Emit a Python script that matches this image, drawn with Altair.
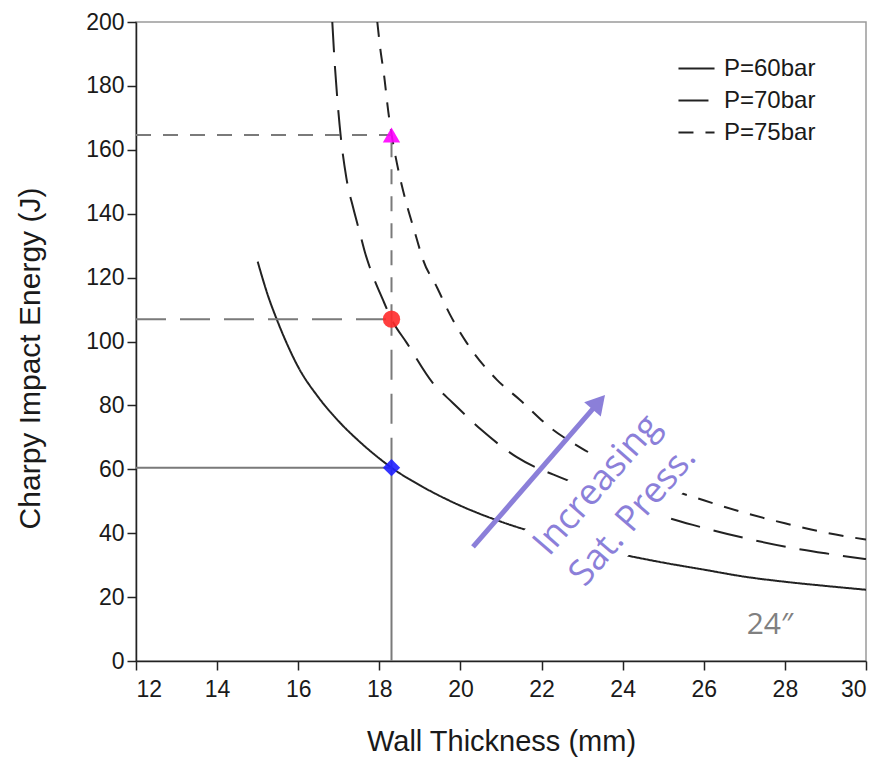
import altair as alt
import pandas as pd

# ---- data ----
series_names = ["P=60bar", "P=70bar", "P=75bar"]

x60 = [15.0, 15.25, 15.5, 15.75, 16.0, 16.5, 17.0, 17.5, 18.0, 18.3, 19.0, 20.0, 21.0, 22.0, 23.0, 24.0, 25.0, 26.0, 27.0, 28.0, 29.0, 30.0]
y60 = [125, 114.5, 106, 98.5, 92, 82.5, 75, 68.8, 63.4, 60.5, 55, 48.6, 43.6, 39.6, 36.2, 33.3, 30.8, 28.6, 26.4, 24.8, 23.5, 22.3]

x70 = [16.84, 16.9, 16.97, 17.05, 17.19, 17.36, 17.52, 17.65, 17.77, 18.09, 18.3, 18.68, 19.32, 19.82, 20.5, 21.39, 22.63, 23.5, 24.3, 25.0, 25.73, 27.0, 28.05, 29.0, 30.0]
y70 = [200, 187, 175, 164, 151, 141.6, 134, 127.7, 123, 113, 107, 99.5, 87, 80.7, 72.5, 63.8, 56.6, 52.1, 48.3, 45.3, 42.6, 38.5, 35.7, 33.7, 31.9]

x75 = [17.95, 18.02, 18.12, 18.22, 18.3, 18.43, 18.63, 18.88, 19.08, 19.42, 19.74, 20.16, 20.9, 21.47, 22.2, 23.0, 24.0, 25.0, 26.0, 27.0, 28.0, 29.0, 30.0]
y75 = [200, 192, 183, 172, 165, 156, 145, 134, 125.5, 117, 108.5, 99.5, 88, 81.7, 73.2, 66.5, 59.8, 54.5, 50.3, 46.4, 43.1, 40.2, 38.0]

design_thickness = 18.3
design_energy = [60.5, 107, 164.6]
x_min = 12

marker_shapes = ["diamond", "circle", "triangle-up"]
marker_colors = ["#1f1fff", "#ff2a2a", "#ff00ff"]

arrow_tail = (20.31, 35.7)
arrow_head = (23.41, 81.0)
note_lines = ["Increasing", "Sat. Press."]
note_x = [23.37, 24.25]
note_y = [55.1, 45.4]
box_center = (23.79, 50.6)
size_label = "24\u2033"
size_label_pos = (27.63, 11.3)

# ---- tables ----
rows = []
for name, xs_, ys_ in zip(series_names, [x60, x70, x75], [y60, y70, y75]):
    for a, b in zip(xs_, ys_):
        rows.append({"t": a, "e": b, "series": name})
curves = pd.DataFrame(rows)

ref_h = pd.DataFrame({"t": [x_min] * 3, "t2": [design_thickness] * 3,
                      "e": design_energy, "series": series_names})
ref_v = pd.DataFrame({"t": [design_thickness] * 3,
                      "e": [0] + design_energy[:2], "e2": design_energy,
                      "series": series_names})
markers = pd.DataFrame({"t": [design_thickness] * 3, "e": design_energy,
                        "mk": ["m60", "m70", "m75"]})
notes = pd.DataFrame({"t": note_x, "e": note_y, "label": note_lines})
arrow = pd.DataFrame({"t": [arrow_tail[0]], "e": [arrow_tail[1]],
                      "t2": [arrow_head[0]], "e2": [arrow_head[1]]})
head = pd.DataFrame({"t": [arrow_head[0]], "e": [arrow_head[1]]})
box = pd.DataFrame({"t": [box_center[0]], "e": [box_center[1]]})
size_df = pd.DataFrame({"t": [size_label_pos[0]], "e": [size_label_pos[1]], "label": [size_label]})

FONT = "Liberation Sans"
xs = alt.Scale(domain=[12, 30], nice=False, zero=False)
ys = alt.Scale(domain=[0, 200], nice=False)
dash_scale = alt.Scale(domain=series_names, range=[[1, 0], [30, 14], [15, 12]])

x_axis = alt.Axis(values=list(range(12, 31, 2)), format="d", grid=False,
                  tickSize=9, labelPadding=8, labelFontSize=23, labelFont=FONT,
                  labelColor="#1a1a1a", domainColor="#222", domainWidth=1.5,
                  tickColor="#222", tickWidth=1.5,
                  title="Wall Thickness (mm)", titleFont=FONT, titleFontSize=29,
                  titleFontWeight="normal", titleColor="#1a1a1a",
                  titleY=80, titleBaseline="middle")
y_axis = alt.Axis(values=list(range(0, 201, 20)), grid=False,
                  tickSize=9, labelPadding=3, labelFontSize=23, labelFont=FONT,
                  labelColor="#1a1a1a", domainColor="#222", domainWidth=1.5,
                  tickColor="#222", tickWidth=1.5,
                  title="Charpy Impact Energy (J)", titleFont=FONT, titleFontSize=30,
                  titleFontWeight="normal", titleColor="#1a1a1a",
                  titleX=-106, titleY=336, titleAngle=270, titleAlign="center",
                  titleBaseline="middle")

legend = alt.Legend(title=None, orient="none", legendX=541, legendY=27,
                    symbolType="stroke", symbolSize=1300, symbolStrokeWidth=2,
                    symbolStrokeColor="#222", labelFontSize=24, labelFont=FONT,
                    labelColor="#1a1a1a", rowPadding=0, labelOffset=8, padding=0)

curve_layer = alt.Chart(curves).mark_line(color="#222", strokeWidth=2, interpolate="monotone", clip=True).encode(
    x=alt.X("t:Q", scale=xs, axis=x_axis),
    y=alt.Y("e:Q", scale=ys, axis=y_axis),
    strokeDash=alt.StrokeDash("series:N", scale=dash_scale, legend=legend),
    detail="series:N",
)

box_path = "M-1,-0.432 L1,-0.432 L1,0.432 L-1,0.432 Z"
box_layer = alt.Chart(box).mark_point(shape=box_path, filled=True, color="white",
                                      opacity=1, size=48400, angle=311, strokeWidth=0).encode(
    x=alt.X("t:Q", scale=xs), y=alt.Y("e:Q", scale=ys))

ref_h_layer = alt.Chart(ref_h).mark_rule(color="#7a7a7a", strokeWidth=2).encode(
    x=alt.X("t:Q", scale=xs), x2="t2:Q", y=alt.Y("e:Q", scale=ys),
    strokeDash=alt.StrokeDash("series:N", scale=dash_scale, legend=None))
ref_v_layer = alt.Chart(ref_v).mark_rule(color="#7a7a7a", strokeWidth=2).encode(
    x=alt.X("t:Q", scale=xs), y=alt.Y("e:Q", scale=ys), y2="e2:Q",
    strokeDash=alt.StrokeDash("series:N", scale=dash_scale, legend=None))

marker_layer = alt.Chart(markers).mark_point(filled=True, opacity=0.9, size=300).encode(
    x=alt.X("t:Q", scale=xs), y=alt.Y("e:Q", scale=ys),
    shape=alt.Shape("mk:N", scale=alt.Scale(domain=["m60", "m70", "m75"], range=marker_shapes), legend=None),
    color=alt.Color("mk:N", scale=alt.Scale(domain=["m60", "m70", "m75"], range=marker_colors), legend=None),
)

PURPLE = "#8b7fd9"
note_layer = alt.Chart(notes).mark_text(font="Open Sans", fontSize=36, color=PURPLE,
                                        angle=311, align="center", baseline="middle").encode(
    x=alt.X("t:Q", scale=xs), y=alt.Y("e:Q", scale=ys), text="label:N")
arrow_layer = alt.Chart(arrow).mark_rule(color=PURPLE, strokeWidth=5).encode(
    x=alt.X("t:Q", scale=xs), y=alt.Y("e:Q", scale=ys), x2="t2:Q", y2="e2:Q")
head_layer = alt.Chart(head).mark_point(shape="triangle-up", filled=True, color=PURPLE,
                                        opacity=1, size=484, angle=41).encode(
    x=alt.X("t:Q", scale=xs), y=alt.Y("e:Q", scale=ys))
size_layer = alt.Chart(size_df).mark_text(font="Open Sans", fontSize=30, color="#808080",
                                          align="center", baseline="middle").encode(
    x=alt.X("t:Q", scale=xs), y=alt.Y("e:Q", scale=ys), text="label:N")

chart = alt.layer(curve_layer, box_layer, ref_h_layer, ref_v_layer, marker_layer,
                  note_layer, arrow_layer, head_layer, size_layer).resolve_scale(
    strokeDash="shared").properties(
    width=730, height=639,
    padding={"left": 128, "top": 14, "right": 13, "bottom": 96},
    autosize=alt.AutoSizeParams(type="none"),
    background="white",
).configure_view(stroke="#9a9a9a", strokeWidth=1.5)

chart.save("out.html", embed_options={"renderer": "svg", "actions": False})
